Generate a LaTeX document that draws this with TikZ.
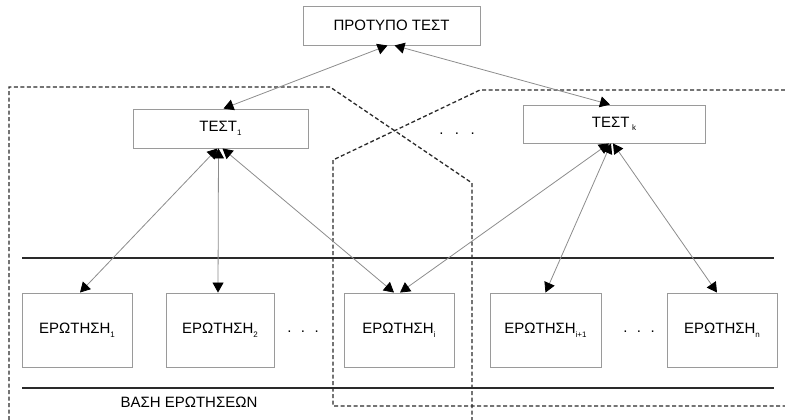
\documentclass[tikz,border=0pt]{standalone}
\usepackage{fontspec}
\setmainfont{Liberation Sans}
\usetikzlibrary{arrows.meta}
\newcommand\subidx[1]{\raisebox{-0.45ex}{\fontsize{8}{9}\selectfont #1}}
\definecolor{boxgray}{HTML}{9A9A9A}
\definecolor{linkgray}{HTML}{8C8C8C}
\definecolor{darkline}{HTML}{2A2A2A}
\begin{document}
\begin{tikzpicture}[x=1pt,y=-1pt,
  every node/.style={font=\fontsize{15}{18}\selectfont},
  box/.style={draw=boxgray,line width=0.9pt,rectangle,inner sep=0pt},
  testbox/.style={box,minimum height=39pt},
  qbox/.style={box,minimum width=110pt,minimum height=74pt},
  link/.style={draw=linkgray,line width=0.8pt,{Triangle[length=10pt,width=11pt,color=black]}-{Triangle[length=10pt,width=11pt,color=black]}},
  region/.style={draw=darkline,line width=1.3pt,dash pattern=on 4pt off 2.5pt},
  rule/.style={draw=darkline,line width=1.3pt},
  dots/.style={anchor=base}]
\useasboundingbox (0,0) rectangle (785,420);

% dashed groupings of the question base
\draw[region] (9,420) -- (9,87) -- (330,87) -- (472,183) -- (472,420);
\draw[region] (785,90) -- (480,90) -- (333,160) -- (333,406) -- (785,406);

% horizontal rules bounding the question base
\draw[rule] (22,258) -- (774,258);
\draw[rule] (22,388) -- (774,388);

% nodes
\node[testbox,minimum width=177pt] (top) at (391.5,25.5) {ΠΡΟΤΥΠΟ ΤΕΣΤ};
\node[testbox,minimum width=175pt] (t1) at (220.5,128.5) {ΤΕΣΤ\subidx{1}};
\node[testbox,minimum width=182pt,minimum height=38pt] (tk) at (614,124) {ΤΕΣΤ\,\subidx{k}};
\node[dots] (tdots) at (457,135) {.\hspace{11.5pt}.\hspace{11.5pt}.};

\node[qbox] (q1) at (77,330) {ΕΡΩΤΗΣΗ\subidx{1}};
\node[qbox,minimum width=108pt] (q2) at (220,330) {ΕΡΩΤΗΣΗ\subidx{2}};
\node[dots] (qdots1) at (303,332) {.\hspace{9.5pt}.\hspace{9.5pt}.};
\node[qbox] (qi) at (399,330) {ΕΡΩΤΗΣΗ\subidx{i}};
\node[qbox,minimum width=111pt] (qi1) at (545.5,330) {ΕΡΩΤΗΣΗ\subidx{i+1}};
\node[dots] (qdots2) at (639,332) {.\hspace{9.5pt}.\hspace{9.5pt}.};
\node[qbox] (qn) at (722,330) {ΕΡΩΤΗΣΗ\subidx{n}};

\node (base) at (189,402) {ΒΑΣΗ ΕΡΩΤΗΣΕΩΝ};

% links
\draw[link] ([xshift=-4pt]top.south) -- ([xshift=3pt]t1.north);
\draw[link] ([xshift=3pt]top.south) -- ([xshift=-4pt]tk.north);
\draw[link] ([xshift=-3pt]t1.south) -- ([xshift=3pt]q1.north);
\draw[link] ([xshift=-2pt]t1.south) -- ([xshift=-2pt]q2.north);
\draw[link] ([xshift=2pt]t1.south) -- ([xshift=-5pt]qi.north);
\draw[link] ([xshift=-5pt]tk.south) -- ([xshift=1pt]qi.north);
\draw[link] ([xshift=-3pt]tk.south) -- (qi1.north);
\draw[link] ([xshift=-1pt]tk.south) -- ([xshift=-5pt]qn.north);
\end{tikzpicture}
\end{document}
